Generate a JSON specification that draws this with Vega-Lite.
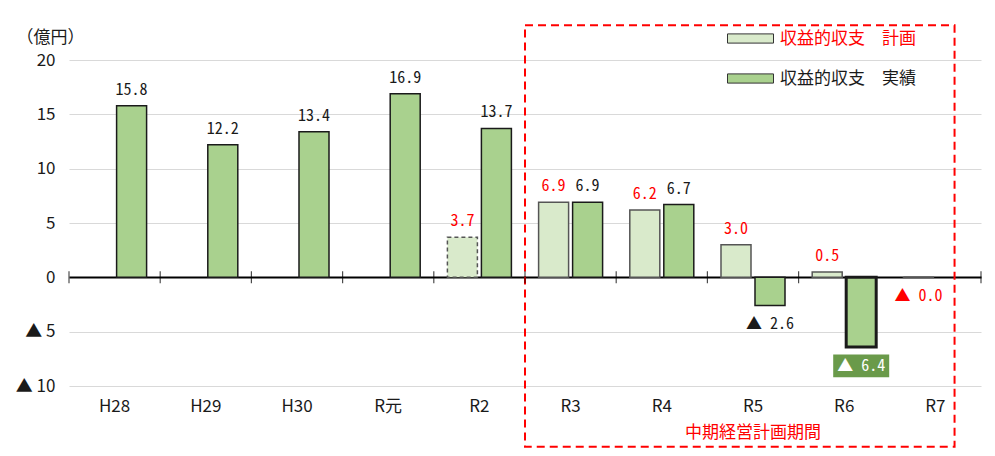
{
  "$schema": "https://vega.github.io/schema/vega-lite/v6.json",
  "autosize": {"type": "none"},
  "padding": {"left": 69, "top": 60, "right": 14, "bottom": 70},
  "width": 912,
  "height": 326,
  "background": "white",
  "config": {
    "view": {"stroke": null},
    "font": "Noto Sans CJK JP"
  },
  "data": {
    "values": [
      {"cat": "H28", "s": "実績", "v": 15.8},
      {"cat": "H29", "s": "実績", "v": 12.2},
      {"cat": "H30", "s": "実績", "v": 13.4},
      {"cat": "R元", "s": "実績", "v": 16.9},
      {"cat": "R2", "s": "計画", "v": 3.7},
      {"cat": "R2", "s": "実績", "v": 13.7},
      {"cat": "R3", "s": "計画", "v": 6.9},
      {"cat": "R3", "s": "実績", "v": 6.9},
      {"cat": "R4", "s": "計画", "v": 6.2},
      {"cat": "R4", "s": "実績", "v": 6.7},
      {"cat": "R5", "s": "計画", "v": 3.0},
      {"cat": "R5", "s": "実績", "v": -2.6},
      {"cat": "R6", "s": "計画", "v": 0.5},
      {"cat": "R6", "s": "実績", "v": -6.4},
      {"cat": "R7", "s": "計画", "v": -0.02}
    ]
  },
  "encoding": {
    "x": {
      "field": "cat", "type": "nominal",
      "sort": ["H28", "H29", "H30", "R元", "R2", "R3", "R4", "R5", "R6", "R7"],
      "scale": {"domain": ["H28", "H29", "H30", "R元", "R2", "R3", "R4", "R5", "R6", "R7"], "paddingInner": 0, "paddingOuter": 0},
      "axis": {
        "title": null, "domain": false, "ticks": false, "labelAngle": 0,
        "labelFont": "Noto Sans CJK JP", "labelFontSize": 17, "labelColor": "#1a1a1a",
        "labelPadding": 12
      }
    }
  },
  "layer": [
    {
      "mark": {"type": "bar", "clip": false},
      "encoding": {
        "y": {
          "field": "v", "type": "quantitative",
          "scale": {"domain": [-10, 20], "nice": false, "zero": false},
          "axis": {
            "grid": true,
            "title": "（億円）", "titleAngle": 0, "titleX": -19, "titleY": -23, "titleAlign": "center",
            "titleBaseline": "middle", "titleFontSize": 17, "titleFontWeight": "normal", "titleColor": "#1a1a1a",
            "titleFont": "Noto Sans CJK JP",
            "values": [-10, -5, 0, 5, 10, 15, 20],
            "labelExpr": "datum.value < 0 ? '▲ ' + abs(datum.value) : datum.value",
            "domain": false, "ticks": false,
            "labelFont": "Noto Sans CJK JP", "labelFontSize": 17, "labelColor": "#1a1a1a",
            "labelPadding": 14,
            "gridColor": {"condition": {"test": "datum.value === 0", "value": "#000000"}, "value": "#d9d9d9"},
            "gridWidth": {"condition": {"test": "datum.value === 0", "value": 2}, "value": 1}
          }
        },
        "xOffset": {
          "field": "s", "type": "nominal",
          "scale": {"domain": ["計画", "実績"], "paddingInner": 0.1176, "paddingOuter": 0.4}
        },
        "color": {
          "field": "s", "type": "nominal",
          "scale": {"domain": ["計画", "実績"], "range": ["#d9eacb", "#a9d18e"]},
          "legend": {
            "orient": "none", "legendX": 658, "legendY": -45, "title": null,
            "padding": 0, "rowPadding": 8,
            "labelExpr": "'収益的収支　' + datum.label",
            "labelFontSize": 17, "labelFont": "Noto Sans CJK JP", "labelOffset": 6,
            "symbolType": "M-1,-0.2L1,-0.2L1,0.2L-1,0.2Z",
            "symbolSize": 2116, "symbolStrokeColor": "#333333", "symbolStrokeWidth": 1,
            "encoding": {"labels": {"fill": {"condition": {"test": "datum.value === '計画'", "value": "#ff0000"}, "value": "#1a1a1a"}}}
          }
        },
        "stroke": {"condition": {"test": "datum.s === '計画'", "value": "#555555"}, "value": "#1a1a1a"},
        "strokeWidth": {"condition": {"test": "datum.cat === 'R6' && datum.s === '実績'", "value": 3}, "value": 1.5},
        "strokeDash": {"condition": {"test": "datum.cat === 'R2' && datum.s === '計画'", "value": [4, 3]}, "value": [1, 0]}
      }
    },
    {
      "transform": [{"filter": "datum.cat === 'R5' && datum.s === '計画'"}],
      "mark": {"type": "rect", "fill": null, "stroke": "#ff0000", "strokeWidth": 2, "strokeDash": [8, 5], "clip": false},
      "encoding": {
        "x": {"datum": "R3", "bandPosition": 0},
        "x2": {"datum": "R7", "bandPosition": 0.71},
        "y": {"datum": 23.2, "type": "quantitative"},
        "y2": {"datum": -15.6}
      }
    },
    {
      "transform": [{"filter": "datum.cat === 'R5' && datum.s === '計画'"}],
      "mark": {"type": "text", "text": "中期経営計画期間", "color": "#ff0000", "fontSize": 17, "baseline": "middle", "clip": false},
      "encoding": {
        "x": {"datum": "R5"},
        "y": {"datum": -14.3, "type": "quantitative"}
      }
    },
    {
      "transform": [{"filter": "datum.s === '実績'"}],
      "mark": {"type": "tick", "orient": "vertical", "color": "#000000", "size": 12, "thickness": 1.2},
      "encoding": {
        "x": {"field": "cat", "type": "nominal", "bandPosition": 0},
        "y": {"datum": 0, "type": "quantitative"}
      }
    },
    {
      "transform": [{"filter": "datum.cat === 'R7'"}],
      "mark": {"type": "tick", "orient": "vertical", "color": "#000000", "size": 12, "thickness": 1.2},
      "encoding": {
        "x": {"field": "cat", "type": "nominal", "bandPosition": 1},
        "y": {"datum": 0, "type": "quantitative"}
      }
    },
    {
      "transform": [{"filter": "datum.v >= 0"}],
      "mark": {"type": "text", "dy": -16, "baseline": "middle", "fontSize": 16, "font": "Noto Sans Mono CJK JP, DejaVu Sans Mono"},
      "encoding": {
        "y": {"field": "v", "type": "quantitative"},
        "xOffset": {"field": "s", "type": "nominal"},
        "text": {"field": "v", "type": "quantitative", "format": ".1f"},
        "color": {"condition": {"test": "datum.s === '計画'", "value": "#ff0000"}, "value": "#1a1a1a"}
      }
    },
    {
      "transform": [
        {"filter": "datum.v < 0 && !(datum.cat === 'R6' && datum.s === '実績')"},
        {"calculate": "'▲ ' + format(abs(datum.v), '.1f')", "as": "lab"}
      ],
      "mark": {"type": "text", "dy": 18, "baseline": "middle", "fontSize": 16, "font": "Noto Sans Mono CJK JP, DejaVu Sans Mono"},
      "encoding": {
        "y": {"field": "v", "type": "quantitative"},
        "xOffset": {"field": "s", "type": "nominal"},
        "text": {"field": "lab"},
        "color": {"condition": {"test": "datum.s === '計画'", "value": "#ff0000"}, "value": "#1a1a1a"}
      }
    },
    {
      "transform": [{"filter": "datum.cat === 'R6' && datum.s === '実績'"}],
      "mark": {"type": "point", "shape": "M-1,-0.41L1,-0.41L1,0.41L-1,0.41Z", "size": 3136, "filled": true, "opacity": 1, "color": "#6a9a4a", "yOffset": 19, "strokeWidth": 0},
      "encoding": {
        "y": {"field": "v", "type": "quantitative"},
        "xOffset": {"field": "s", "type": "nominal"}
      }
    },
    {
      "transform": [
        {"filter": "datum.cat === 'R6' && datum.s === '実績'"},
        {"calculate": "'▲ ' + format(abs(datum.v), '.1f')", "as": "lab"}
      ],
      "mark": {"type": "text", "dy": 19, "baseline": "middle", "fontSize": 16, "color": "#ffffff", "font": "Noto Sans Mono CJK JP, DejaVu Sans Mono"},
      "encoding": {
        "y": {"field": "v", "type": "quantitative"},
        "xOffset": {"field": "s", "type": "nominal"},
        "text": {"field": "lab"}
      }
    }
  ]
}
